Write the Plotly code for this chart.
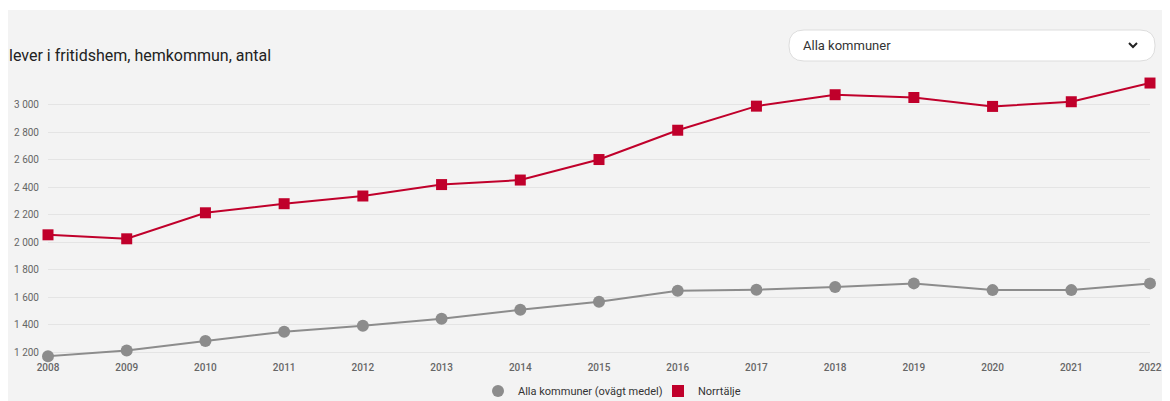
import plotly.graph_objects as go

years = list(range(2008, 2023))
alla_kommuner = [1173, 1215, 1284, 1350, 1394, 1445, 1510, 1568, 1648, 1656, 1675, 1702, 1653, 1653, 1702]
norrtalje = [2055, 2026, 2215, 2281, 2337, 2420, 2453, 2602, 2815, 2990, 3073, 3053, 2988, 3022, 3158]
y_ticks = [1200, 1400, 1600, 1800, 2000, 2200, 2400, 2600, 2800, 3000]
y_ticktext = [f"{v:,}".replace(",", " ") for v in y_ticks]
series_names = ["Alla kommuner (ovägt medel)", "Norrtälje"]
title_text = "lever i fritidshem, hemkommun, antal"
dropdown_text = "Alla kommuner"

GRAY = "#8c8c8c"
RED = "#c0002b"
BG = "#f3f3f3"
OFF = 8  # page body margin
W, H = 1170 - OFF, 401 - OFF
# plot area in page px: x 48..1150, y 80..357
L, R, T, B = 48 - OFF, W - (1150 - OFF), 80 - OFF, H - (357 - OFF)
FONT = "Roboto"

fig = go.Figure()
fig.add_trace(go.Scatter(x=years, y=alla_kommuner, mode="lines+markers", name=series_names[0],
                         line=dict(color=GRAY, width=2), marker=dict(symbol="circle", size=12, color=GRAY),
                         showlegend=False, cliponaxis=False))
fig.add_trace(go.Scatter(x=years, y=norrtalje, mode="lines+markers", name=series_names[1],
                         line=dict(color=RED, width=2), marker=dict(symbol="square", size=11, color=RED),
                         showlegend=False, cliponaxis=False))
# legend-only entries (marker only, as in reference)
fig.add_trace(go.Scatter(x=[None], y=[None], mode="markers", name=series_names[0],
                         marker=dict(symbol="circle", size=12, color=GRAY), legend="legend"))
fig.add_trace(go.Scatter(x=[None], y=[None], mode="markers", name=series_names[1],
                         marker=dict(symbol="square", size=12, color=RED), legend="legend2"))

pw = W - L - R
ph = H - T - B

# helpers: page pixel -> figure paper fraction
def px_x(px):
    return (px - OFF - L) / pw

def px_y(py):
    return (H - B - (py - OFF)) / ph

# page pixel -> pixel offsets relative to anchor at plot bottom-left
def dx(px):
    return px - OFF - L

def dy(py):
    return (H - B) - (py - OFF)

shapes = []
# thin white strip at top
shapes.append(dict(type="rect", xref="paper", yref="paper", x0=px_x(0), x1=px_x(W + 20),
                   y0=px_y(10), y1=px_y(0), fillcolor="white", line=dict(width=0), layer="below"))

def rpath(x0, y0, x1, y1, r):
    X0, X1 = dx(x0), dx(x1)
    Yt, Yb = dy(y0), dy(y1)
    return (f"M{X0 + r},{Yt} L{X1 - r},{Yt} Q{X1},{Yt} {X1},{Yt - r} "
            f"L{X1},{Yb + r} Q{X1},{Yb} {X1 - r},{Yb} L{X0 + r},{Yb} "
            f"Q{X0},{Yb} {X0},{Yb + r} L{X0},{Yt - r} Q{X0},{Yt} {X0 + r},{Yt} Z")

shapes.append(dict(type="path", xref="paper", yref="paper", xsizemode="pixel", ysizemode="pixel",
                   xanchor=0, yanchor=0, path=rpath(789, 30, 1155, 61, 15),
                   fillcolor="white", line=dict(color="#dddddd", width=1)))
# chevron
cx, cy = 1133, 45
shapes.append(dict(type="path", xref="paper", yref="paper", xsizemode="pixel", ysizemode="pixel",
                   xanchor=0, yanchor=0,
                   path=f"M{dx(cx - 4)},{dy(cy - 2)} L{dx(cx)},{dy(cy + 2)} L{dx(cx + 4)},{dy(cy - 2)}",
                   line=dict(color="#222222", width=2)))

annotations = [
    dict(text=title_text, xref="paper", yref="paper", x=px_x(7), y=px_y(55), xanchor="left", yanchor="middle",
         showarrow=False, font=dict(family=FONT, size=16, color="#222222")),
    dict(text=dropdown_text, xref="paper", yref="paper", x=px_x(801), y=px_y(45.5), xanchor="left", yanchor="middle",
         showarrow=False, font=dict(family=FONT, size=13, color="#333333")),
]

legend_common = dict(orientation="h", yanchor="middle", xanchor="left",
                     font=dict(family=FONT, size=11, color="#333333"), itemwidth=30,
                     bgcolor="rgba(0,0,0,0)")

fig.update_layout(
    width=W, height=H,
    margin=dict(l=L, r=R, t=T, b=B, autoexpand=False),
    paper_bgcolor=BG, plot_bgcolor=BG,
    font=dict(family=FONT, color="#666666"),
    shapes=shapes, annotations=annotations,
    legend=dict(x=px_x(478), y=px_y(391), **legend_common),
    legend2=dict(x=px_x(658), y=px_y(391), **legend_common),
    xaxis=dict(range=[2008, 2022], tickvals=years, ticktext=[str(y) for y in years], showgrid=False,
               zeroline=False, showline=False, ticks="", ticklabelstandoff=3,
               tickfont=dict(family=FONT, size=10, color="#666666", weight=500), fixedrange=True),
    yaxis=dict(range=[1167, 3180], tickvals=y_ticks, ticktext=y_ticktext, showgrid=True,
               gridcolor="#e4e4e4", gridwidth=1, zeroline=False, showline=False, ticks="",
               ticklabelstandoff=8, tickfont=dict(family=FONT, size=10, color="#666666"), fixedrange=True),
    hovermode=False,
)

fig.write_html("out.html")
